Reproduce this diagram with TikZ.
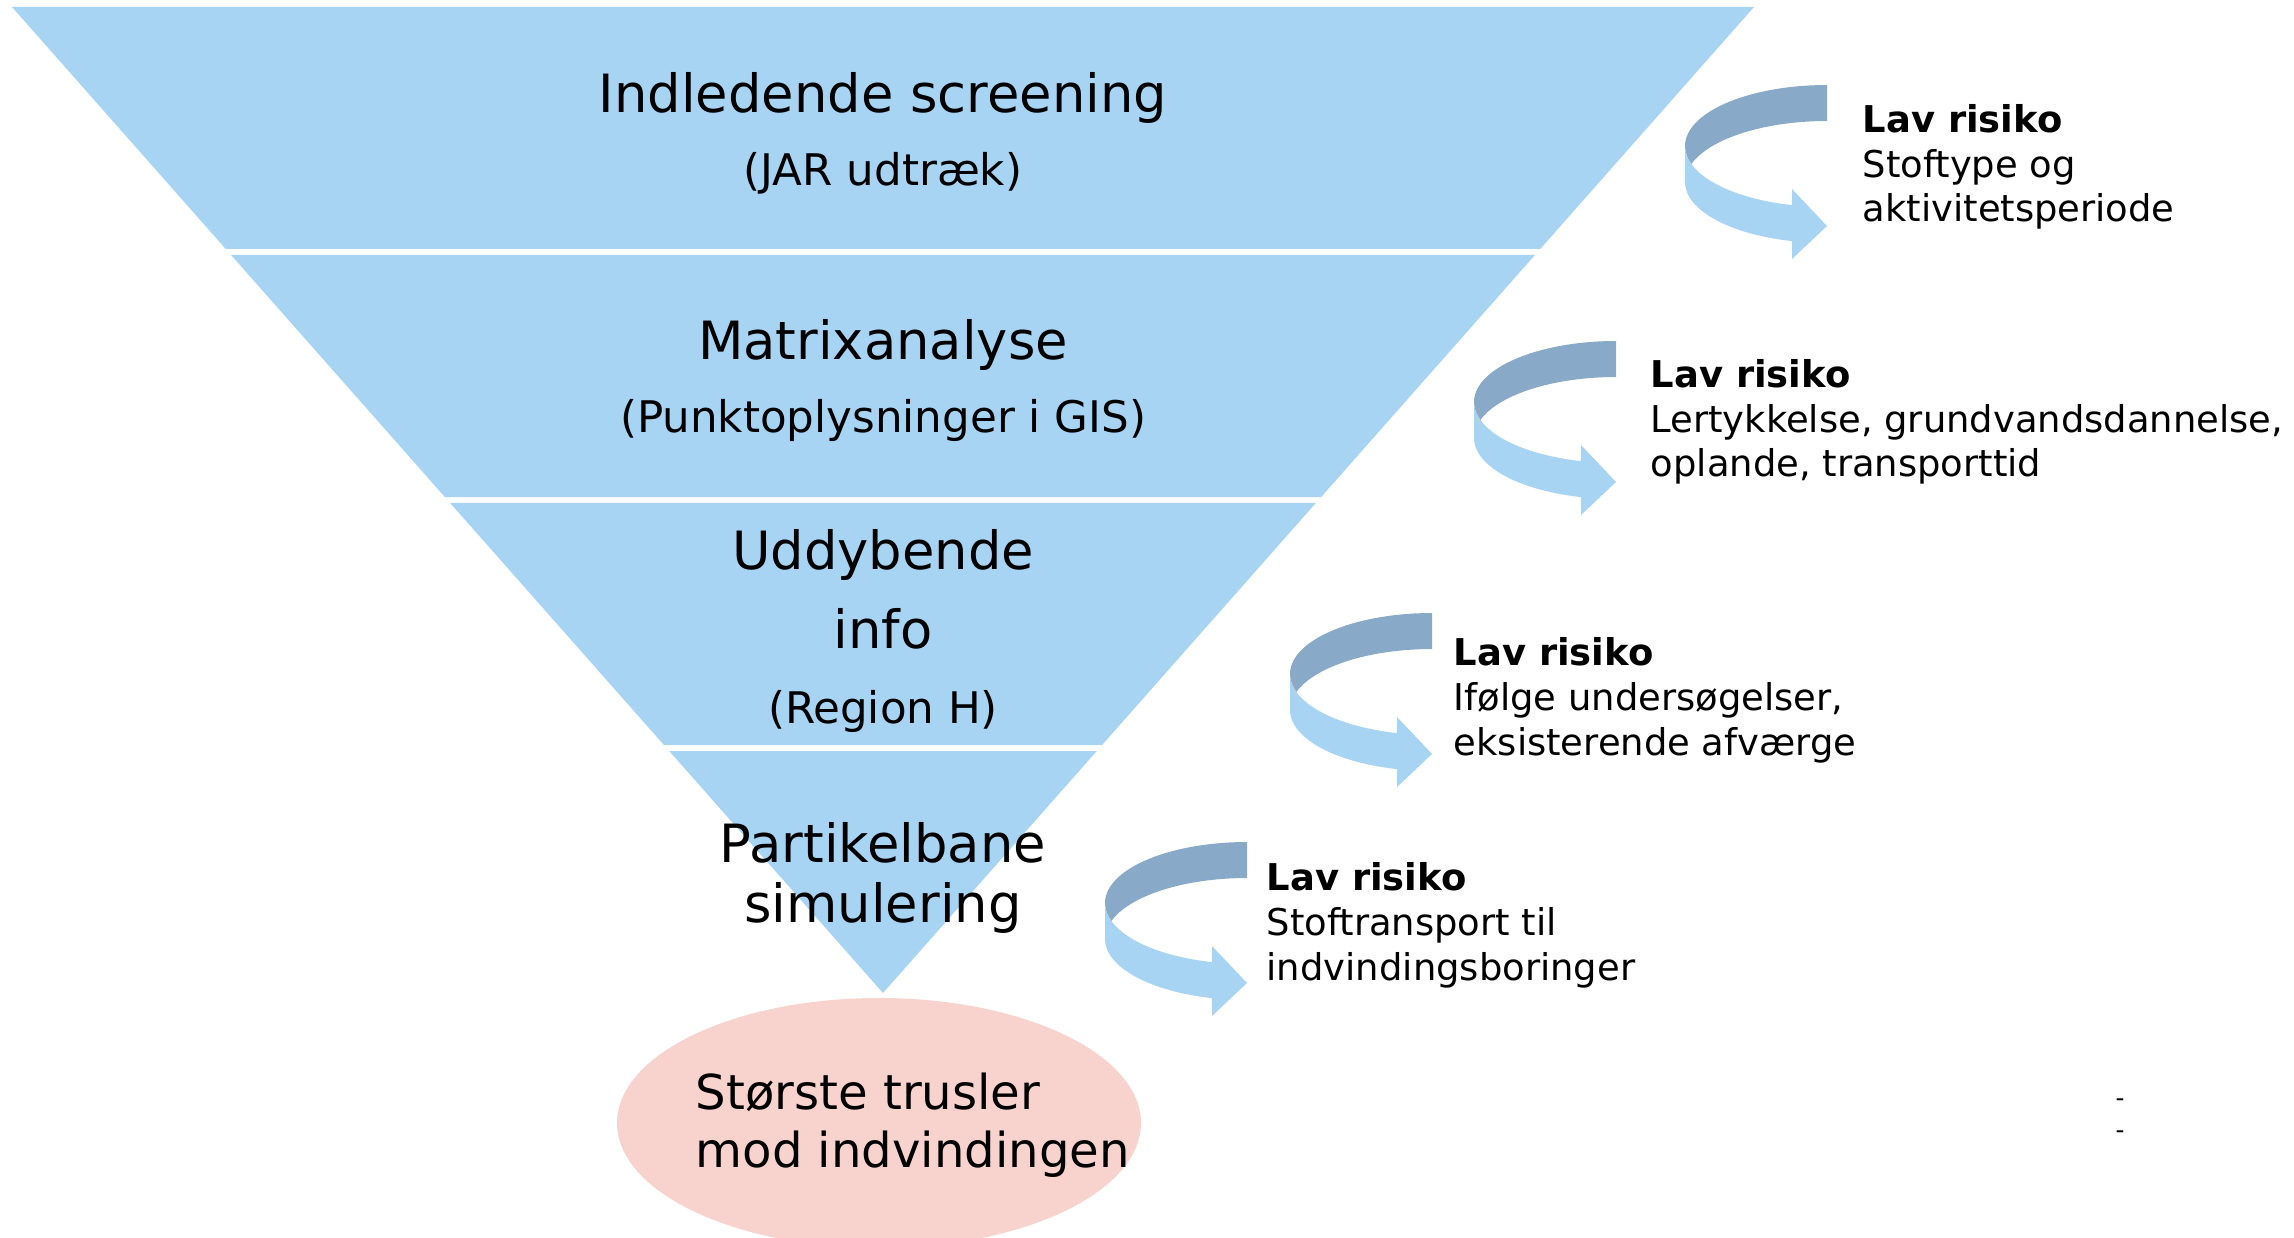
\documentclass[tikz,border=0pt]{standalone}
\usepackage{fontspec}
\setmainfont{DejaVu Sans}
\usepackage{tikz}
\usetikzlibrary{calc,shapes.geometric}
\definecolor{funnelblue}{HTML}{A8D4F4}
\definecolor{ribbondark}{HTML}{88A9C7}
\definecolor{threatpink}{HTML}{F8D3CD}
\tikzset{
  band/.style={fill=funnelblue},
  stage/.style={anchor=base,font=\fontsize{15}{16.8}\selectfont},
  stagesub/.style={anchor=base,font=\fontsize{12.4}{15}\selectfont},
  threat/.style={ellipse,fill=threatpink,minimum width=52.4mm,minimum height=25mm,inner sep=0pt},
  threattext/.style={anchor=base west,align=left,inner sep=0pt,font=\fontsize{13.7}{16.5}\selectfont},
  risk/.style={anchor=base west,align=left,inner sep=0pt,font=\fontsize{10.5}{12.8}\selectfont},
}
% curled ribbon arrow, #1/#2 = right end / top of the ribbon
\newcommand{\riskarrow}[2]{
  \fill[ribbondark] (#1,#2)
    -- plot[domain=90:180,samples=30,variable=\t] ({#1+142*cos(\t)},{#2+61-61*sin(\t)})
    -- plot[domain=180:197.2,samples=6,variable=\t] ({#1+142*cos(\t)},{#2+61-61*sin(\t)})
    -- plot[domain=162.8:90,samples=30,variable=\t] ({#1+142*cos(\t)},{#2+97-61*sin(\t)})
    -- cycle;
  \fill[funnelblue]
    plot[domain=180:255.7,samples=30,variable=\t] ({#1+142*cos(\t)},{#2+61-61*sin(\t)})
    -- (#1-35,#2+104) -- (#1,#2+141) -- (#1-35,#2+174)
    -- plot[domain=255.7:180,samples=30,variable=\t] ({#1+142*cos(\t)},{#2+97-61*sin(\t)})
    -- cycle;
}

\begin{document}
\begin{tikzpicture}[x=0.1mm,y=-0.1mm]
  \clip (0,0) rectangle (2294,1238);
  \fill[white] (0,0) rectangle (2294,1238);

  \coordinate (tl) at (12,7);
  \coordinate (tr) at (1754,7);
  \coordinate (ap) at (883,993);
  \foreach \ta/\tb in {0/0.2454,0.2515/0.4970,0.5030/0.7485,0.7546/1}
    \fill[band] ($(tl)!\ta!(ap)$) -- ($(tr)!\ta!(ap)$) -- ($(tr)!\tb!(ap)$) -- ($(tl)!\tb!(ap)$) -- cycle;

  \node[stage] (screen) at (883,113) {Indledende screening};
  \node[stagesub] (jar) at (883,186) {(JAR udtræk)};
  \node[stage] (matrix) at (883,360) {Matrixanalyse};
  \node[stagesub] (gis) at (883,433) {(Punktoplysninger i GIS)};
  \node[stage] (deep) at (883,569) {Uddybende};
  \node[stage] (info) at (883,648) {info};
  \node[stagesub] (region) at (883,723) {(Region H)};
  \node[stage,align=center] (sim) at (883,922) {Partikelbane\\simulering};

  \node[threat] (threat) at (879,1123) {};
  \node[threattext] (threatlbl) at (695,1167) {Største trusler\\mod indvindingen};

  \riskarrow{1827}{85}
  \riskarrow{1616}{341}
  \riskarrow{1432}{613}
  \riskarrow{1247}{842}

  \node[risk] (risk1) at (1862,222) {\textbf{Lav risiko}\\Stoftype og\\aktivitetsperiode};
  \node[risk] (risk2) at (1650,477) {\textbf{Lav risiko}\\Lertykkelse, grundvandsdannelse,\\oplande, transporttid};
  \node[risk] (risk3) at (1453,755) {\textbf{Lav risiko}\\Ifølge undersøgelser,\\eksisterende afværge};
  \node[risk] (risk4) at (1266,980) {\textbf{Lav risiko}\\Stoftransport til\\indvindingsboringer};

  \node[font=\fontsize{7}{8}\selectfont,inner sep=0pt] (dash1) at (2120,1103) {-};
  \node[font=\fontsize{7}{8}\selectfont,inner sep=0pt] (dash2) at (2120,1135) {-};
\end{tikzpicture}
\end{document}
